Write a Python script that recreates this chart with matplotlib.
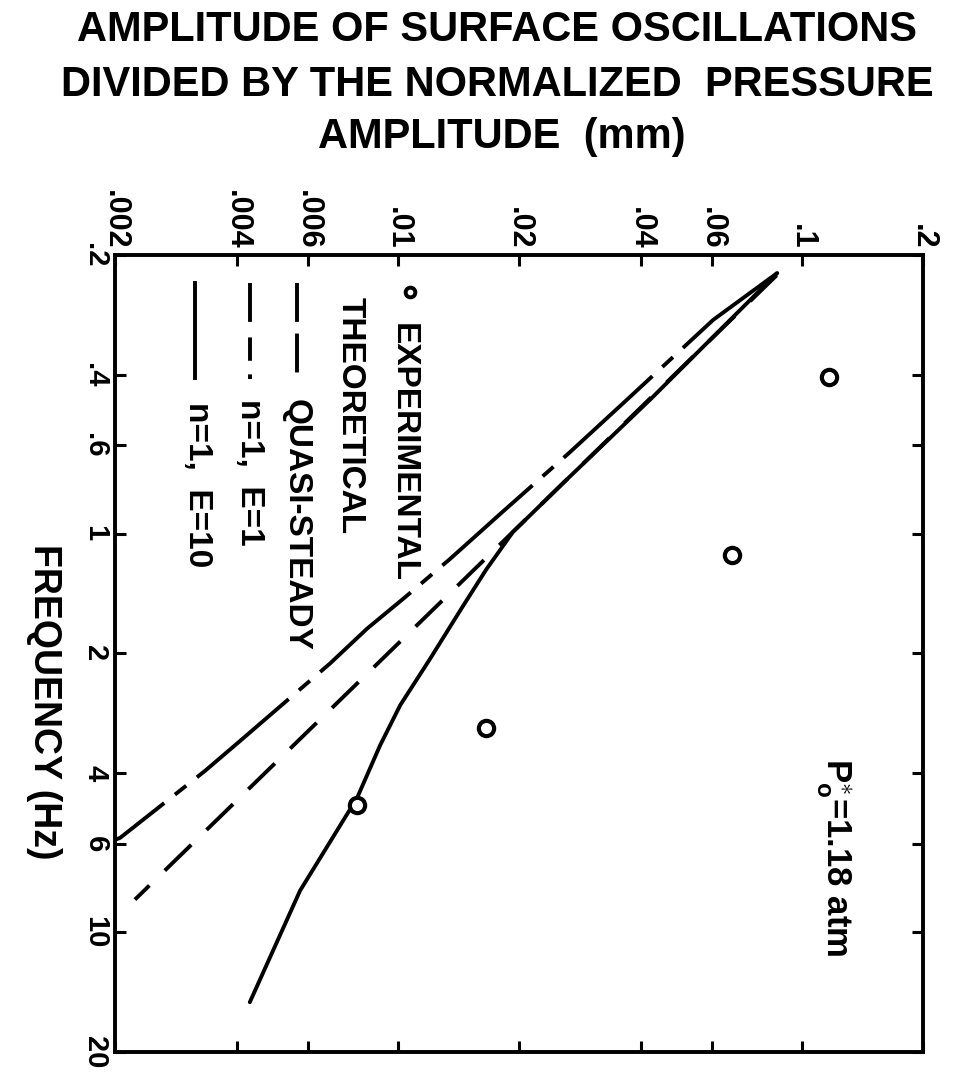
import matplotlib
matplotlib.use('Agg')
import matplotlib.pyplot as plt
from matplotlib.ticker import FixedLocator, FixedFormatter, NullLocator

plt.rcParams['font.family'] = ['Liberation Sans', 'DejaVu Sans']
plt.rcParams['font.weight'] = 'bold'
plt.rcParams['mathtext.fontset'] = 'custom'
plt.rcParams['mathtext.rm'] = 'Liberation Sans:bold'
plt.rcParams['mathtext.it'] = 'Liberation Sans:bold'

# frequency (Hz) and amplitude/normalized pressure amplitude (mm)
exp_freq = [0.404, 1.131, 3.08, 4.80]
exp_amp = [0.117, 0.0673, 0.01656, 0.00794]

qs_freq = [0.225, 8.29]
qs_amp = [0.0867, 0.00224]

e1_freq = [0.222, 0.291, 0.461, 0.625, 0.893, 1.158, 1.458, 1.732, 2.118, 3.32, 3.94, 5.80, 5.87]
e1_amp = [0.0870, 0.0604, 0.0370, 0.0267, 0.01795, 0.01349, 0.01033, 0.00841, 0.00681, 0.00407, 0.00334, 0.00206, 0.0020]

e10_freq = [0.222, 0.461, 0.730, 0.991, 1.232, 1.517, 2.059, 2.698, 3.396, 4.61, 7.87, 15.0]
e10_amp = [0.0870, 0.0422, 0.0263, 0.0193, 0.01657, 0.01454, 0.01205, 0.01015, 0.00906, 0.00794, 0.00574, 0.00431]

amp_ticks = [0.002, 0.004, 0.006, 0.01, 0.02, 0.04, 0.06, 0.1, 0.2]
amp_labels = ['.002', '.004', '.006', '.01', '.02', '.04', '.06', '.1', '.2']
freq_ticks = [0.2, 0.4, 0.6, 1, 2, 4, 6, 10, 20]
freq_labels = ['.2', '.4', '.6', '1', '2', '4', '6', '10', '20']

fig = plt.figure(figsize=(9.75, 10.75), dpi=100)
ax = fig.add_axes([0.118, 0.0214, 0.829, 0.7414])

lw = 2.8
# amplitude runs across, frequency runs down the page
ax.plot(qs_amp, qs_freq, color='black', lw=lw, dashes=(9.5, 5.5))
ax.plot(e1_amp, e1_freq, color='black', lw=lw, dashes=(31, 3.5, 3.7, 3.5))
ax.plot(e10_amp, e10_freq, color='black', lw=lw, solid_capstyle='round', solid_joinstyle='round')
ax.plot(exp_amp, exp_freq, 'o', ms=11, mfc='white', mec='black', mew=3)

ax.set_xscale('log')
ax.set_yscale('log')
ax.set_xlim(0.002, 0.2)
ax.set_ylim(20, 0.2)

ax.xaxis.set_major_locator(FixedLocator(amp_ticks))
ax.xaxis.set_major_formatter(FixedFormatter(amp_labels))
ax.xaxis.set_minor_locator(NullLocator())
ax.yaxis.set_major_locator(FixedLocator(freq_ticks))
ax.yaxis.set_major_formatter(FixedFormatter(freq_labels))
ax.yaxis.set_minor_locator(NullLocator())

ax.xaxis.tick_top()
ax.tick_params(axis='both', which='major', direction='in', length=8, width=2.2,
               top=True, bottom=True, left=True, right=True, labelsize=22, pad=4)
ax.tick_params(axis='x', labelrotation=-90, labeltop=True, labelbottom=False)
ax.tick_params(axis='y', labelrotation=-90, labelsize=21)
for lbl in ax.get_yticklabels():
    lbl.set_va('center')
for s in ax.spines.values():
    s.set_linewidth(2.8)

# legend, written sideways like the rest of the sheet
tr = ax.transAxes
ax.plot([0.365], [0.954], 'o', ms=7, mfc='white', mec='black', mew=2.8, transform=tr, clip_on=False)
ax.text(0.356, 0.915, 'EXPERIMENTAL', rotation=-90, ha='center', va='top', fontsize=24, transform=tr)
ax.text(0.291, 0.9475, 'THEORETICAL', rotation=-90, ha='center', va='top', fontsize=24, transform=tr)
ax.plot([0.225, 0.225], [0.965, 0.84], color='black', lw=lw, dashes=(10, 3), transform=tr)
ax.text(0.224, 0.819, 'QUASI-STEADY', rotation=-90, ha='center', va='top', fontsize=24, transform=tr)
ax.plot([0.167, 0.167], [0.965, 0.844], color='black', lw=lw, dashes=(10, 4, 6, 3.5), transform=tr)
ax.text(0.166, 0.819, 'n=1,  E=1', rotation=-90, ha='center', va='top', fontsize=24, transform=tr)
ax.plot([0.099, 0.099], [0.965, 0.846], color='black', lw=lw, transform=tr)
ax.text(0.1015, 0.815, 'n=1,  E=10', rotation=-90, ha='center', va='top', fontsize=24, transform=tr)

ax.text(0.889, 0.369, r'P$_{\mathrm{o}}^{\ast}$=1.18 atm', rotation=-90, ha='center', va='top',
        fontsize=25, transform=tr)

fig.text(0.045, 0.347, 'FREQUENCY (Hz)', rotation=-90, ha='center', va='center', fontsize=27)

fig.text(0.51, 0.972, 'AMPLITUDE OF SURFACE OSCILLATIONS', ha='center', va='center', fontsize=30)
fig.text(0.51, 0.921, 'DIVIDED BY THE NORMALIZED  PRESSURE', ha='center', va='center', fontsize=30)
fig.text(0.515, 0.873, 'AMPLITUDE  (mm)', ha='center', va='center', fontsize=30)

fig.savefig('out.png', dpi=100, facecolor='white')
